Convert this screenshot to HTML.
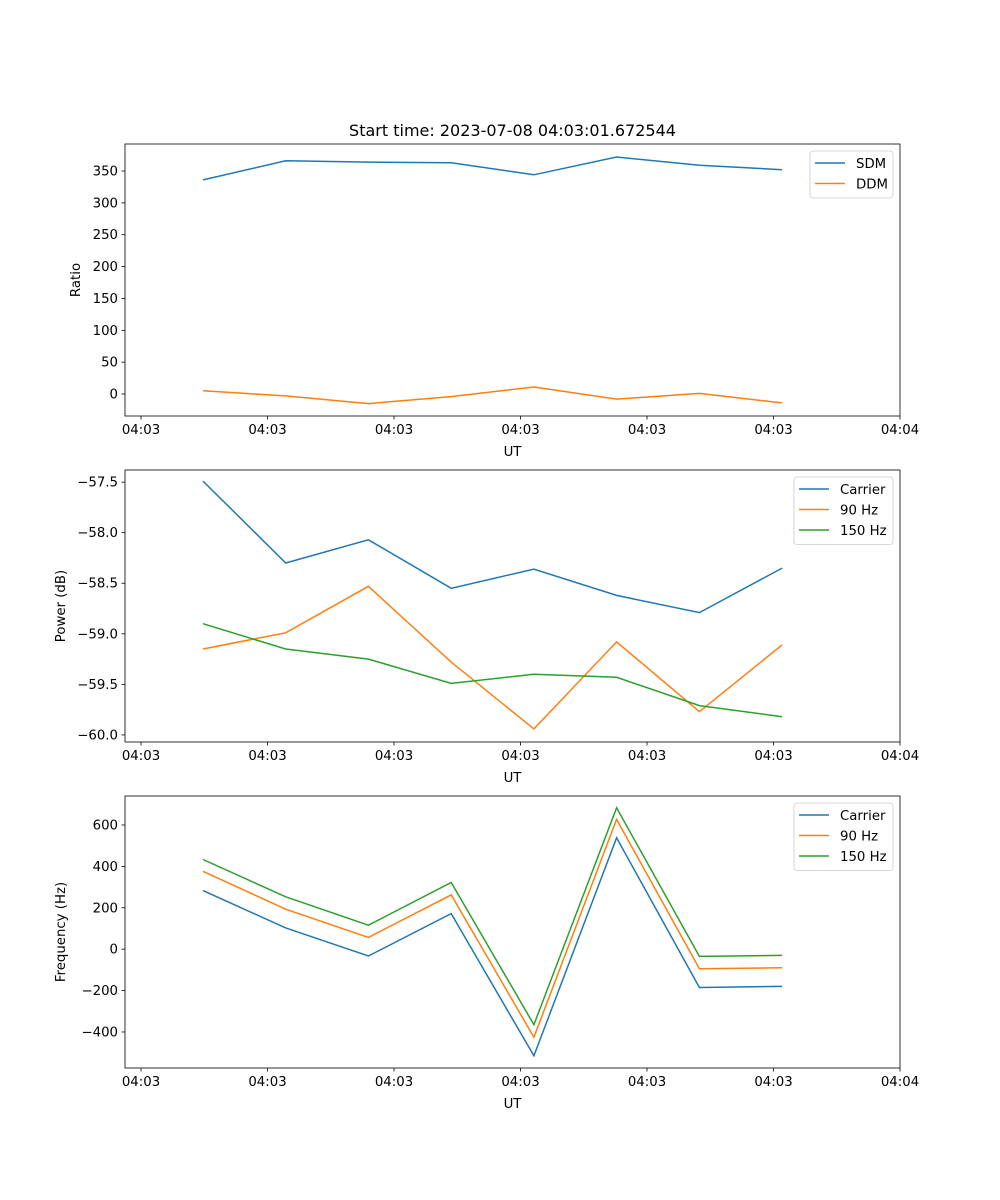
<!DOCTYPE html>
<html><head><meta charset="utf-8"><style>
body{margin:0;background:#fff;}
svg{display:block;font-family:"DejaVu Sans","Liberation Sans",sans-serif;}
</style></head><body>
<svg id="chart" width="1000" height="1200" xmlns="http://www.w3.org/2000/svg"></svg>
<script>
const times = [0.49, 1.144, 1.798, 2.452, 3.106, 3.76, 4.414, 5.068];
const tickVals = [0, 1, 2, 3, 4, 5, 6];
const tickLabels = ["04:03","04:03","04:03","04:03","04:03","04:03","04:04"];
const sdm = [336, 366, 364, 363, 344, 372, 359, 352];
const ddm = [5, -3, -15, -4, 11, -8, 1, -14];
const pCarrier = [-57.49, -58.30, -58.07, -58.55, -58.36, -58.62, -58.79, -58.35];
const p90 = [-59.15, -58.99, -58.53, -59.28, -59.94, -59.08, -59.77, -59.11];
const p150 = [-58.90, -59.15, -59.25, -59.49, -59.40, -59.43, -59.71, -59.82];
const fCarrier = [283, 103, -33, 172, -515, 538, -185, -180];
const f90 = [376, 193, 57, 262, -425, 627, -95, -90];
const f150 = [433, 253, 116, 322, -365, 683, -35, -30];
const yTicks1 = [0, 50, 100, 150, 200, 250, 300, 350];
const yTicks2 = [-60.0, -59.5, -59.0, -58.5, -58.0, -57.5];
const yTicks3 = [-400, -200, 0, 200, 400, 600];

const NS = "http://www.w3.org/2000/svg";
const svg = document.getElementById('chart');
const C = {blue:"#1f77b4", orange:"#ff7f0e", green:"#2ca02c"};
const L = 125, R = 900;
const xs = v => 141 + (v - 0) * (900 - 141) / 6;
function mk(tag, attrs, parent) {
  const e = document.createElementNS(NS, tag);
  for (const k in attrs) e.setAttribute(k, attrs[k]);
  (parent || svg).appendChild(e); return e;
}
function txt(s, attrs, parent) { const t = mk('text', attrs, parent); t.textContent = s; return t; }

function panel(name, top, bottom, ymin, ymax, yTicks, fmt, ylabel, series, legend) {
  const g = mk('g', {});
  
  
  const ys = v => bottom - (v - ymin) * (bottom - top) / (ymax - ymin);
  // y ticks
  yTicks.forEach(v => {
    const y = ys(v);
    mk('line', {x1: L - 3.5, x2: L, y1: y, y2: y, stroke: '#000', 'stroke-width': 0.8}, g);
    const t = txt(fmt(v), {x: L - 7, y: y + 4.5, 'font-size': 13.3, 'text-anchor': 'end'}, g);
    
    
  });
  tickVals.forEach((v, i) => {
    const x = xs(v);
    mk('line', {x1: x, x2: x, y1: bottom, y2: bottom + 3.5, stroke: '#000', 'stroke-width': 0.8}, g);
    const t = txt(tickLabels[i], {x: x, y: bottom + 18, 'font-size': 13.3, 'text-anchor': 'middle'}, g);
    
    
  });
  const xl = txt('UT', {x: (L + R) / 2, y: bottom + 40, 'font-size': 13.3, 'text-anchor': 'middle'}, g);
  
  
  const cy = (top + bottom) / 2;
  const yl = txt(ylabel, {x: 0, y: 0, 'font-size': 13.3, 'text-anchor': 'middle', transform: `translate(${name==='ratio'?80:65},${cy}) rotate(-90)`}, g);
  
  
  series.forEach(s => {
    const d = s.data.map((v, i) => (i ? 'L' : 'M') + xs(times[i]).toFixed(1) + ',' + ys(v).toFixed(1)).join(' ');
    const p = mk('path', {d: d, fill: 'none', stroke: s.color, 'stroke-width': 1.5}, g);
    
    
  });
  mk('rect', {x: L, y: top, width: R - L, height: bottom - top, fill: 'none', stroke: '#000', 'stroke-width': 0.8}, g);
  // legend
  const lg = mk('g', {}, g);
  
  
  mk('rect', {x: legend.x, y: top + 7, width: 893 - legend.x, height: series.length * 20.5 + 6, rx: 3, fill: '#fff', stroke: '#ccc', 'stroke-width': 0.8}, lg);
  series.forEach((s, i) => {
    const y = top + 19 + i * 20.5;
    mk('line', {x1: legend.x + 5, x2: legend.x + 35, y1: y, y2: y, stroke: s.color, 'stroke-width': 1.5}, lg);
    const t = txt(s.label, {x: legend.x + 46, y: y + 5, 'font-size': 13.3}, lg);
    
    
  });
}
const title = txt('Start time: 2023-07-08 04:03:01.672544', {x: 512.5, y: 136, 'font-size': 16, 'text-anchor': 'middle'});



panel('ratio', 144, 416, -34.5, 392.4, yTicks1, v => String(v), 'Ratio',
  [{data: sdm, color: C.blue, label: 'SDM'}, {data: ddm, color: C.orange, label: 'DDM'}], {x: 810});
panel('power', 470, 742, -60.07, -57.38, yTicks2, v => '\u2212' + Math.abs(v).toFixed(1), 'Power (dB)',
  [{data: pCarrier, color: C.blue, label: 'Carrier'}, {data: p90, color: C.orange, label: '90 Hz'}, {data: p150, color: C.green, label: '150 Hz'}], {x: 794});
panel('frequency', 796, 1068, -574, 740, yTicks3, v => (v < 0 ? '\u2212' : '') + Math.abs(v), 'Frequency (Hz)',
  [{data: fCarrier, color: C.blue, label: 'Carrier'}, {data: f90, color: C.orange, label: '90 Hz'}, {data: f150, color: C.green, label: '150 Hz'}], {x: 794});
</script>
</body></html>
